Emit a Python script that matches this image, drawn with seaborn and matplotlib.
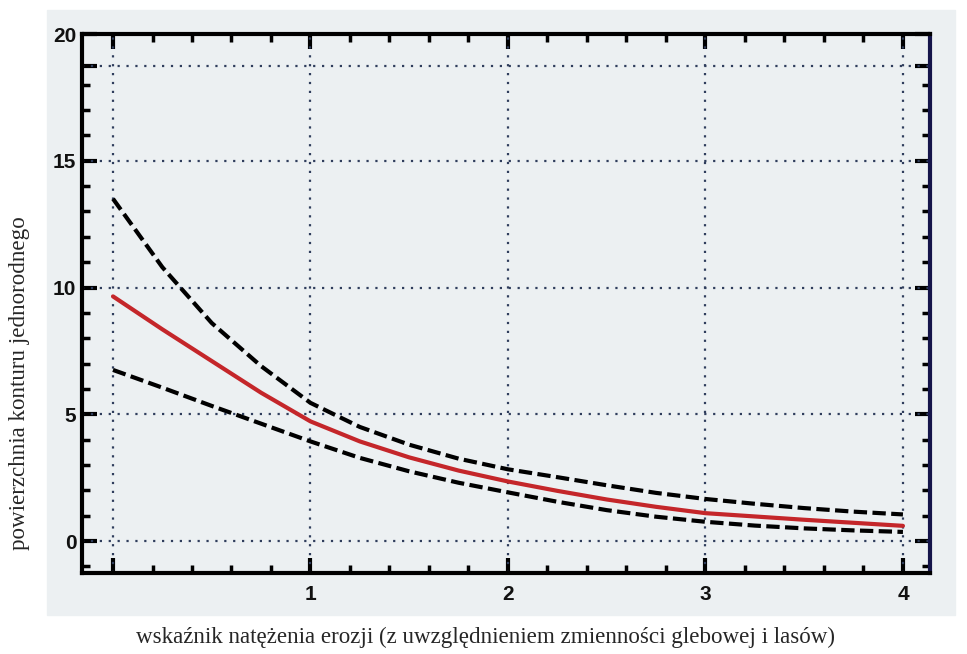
import numpy as np
import pandas as pd
import seaborn as sns
import matplotlib
matplotlib.use("Agg")
import matplotlib.pyplot as plt
from matplotlib.patches import Rectangle
from matplotlib.ticker import MultipleLocator, FixedLocator

# values
x_vals = [0, 0.25, 0.5, 0.75, 1, 1.25, 1.5, 1.75, 2, 2.25, 2.5, 2.75, 3, 3.25, 3.5, 3.75, 4]
mid = [9.65, 8.35, 7.1, 5.85, 4.72, 3.93, 3.3, 2.78, 2.35, 1.98, 1.64, 1.35, 1.1, 0.97, 0.84, 0.72, 0.6]
upper = [13.5, 10.8, 8.6, 6.9, 5.45, 4.5, 3.8, 3.25, 2.83, 2.52, 2.2, 1.9, 1.66, 1.47, 1.3, 1.16, 1.05]
lower = [6.75, 6.05, 5.33, 4.63, 3.93, 3.28, 2.75, 2.3, 1.92, 1.55, 1.22, 0.96, 0.76, 0.61, 0.5, 0.42, 0.36]

xticks = [0, 1, 2, 3, 4]
xticklabels = ["", "1", "2", "3", "4"]
yticks = [0, 5, 10, 15, 18.75, 20]
yticklabels = ["0", "5", "10", "15", "", "20"]

xlabel = "wskaźnik natężenia erozji (z uwzględnieniem zmienności glebowej i lasów)"
ylabel = "powierzchnia konturu jednorodnego"

df = pd.DataFrame({"x": x_vals, "mid": mid, "upper": upper, "lower": lower})

sns.set_style("ticks")
paper = "#ecf0f2"

W, H = 967, 654
fig = plt.figure(figsize=(W / 100, H / 100), dpi=100)
fig.patch.set_facecolor("white")
# scanned page area
fig.patches.append(Rectangle((47 / W, 1 - 615 / H), (955 - 47) / W, (615 - 10) / H,
                             transform=fig.transFigure, color=paper, zorder=-10))

ax = fig.add_axes([82 / W, 1 - 573 / H, (930 - 82) / W, (573 - 34) / H])
ax.set_facecolor(paper)

# dotted grid
grid_kw = dict(color="#2f3d5c", linestyle=(0, (1, 3)), linewidth=1.6, zorder=1)
for gx in xticks:
    ax.axvline(gx, **grid_kw)
for gy in yticks[:-1]:
    ax.axhline(gy, **grid_kw)

sns.lineplot(data=df, x="x", y="upper", ax=ax, color="black", linewidth=3, zorder=3)
ax.lines[-1].set_dashes((3.2, 1.3))
sns.lineplot(data=df, x="x", y="lower", ax=ax, color="black", linewidth=3, zorder=3)
ax.lines[-1].set_dashes((3.2, 1.3))
sns.lineplot(data=df, x="x", y="mid", ax=ax, color="#c4262a", linewidth=3, zorder=4)

ax.set_xlim(-0.157, 4.137)
ax.set_ylim(-1.26, 20)
ax.set_xticks(xticks)
ax.set_xticklabels(xticklabels)
ax.set_yticks(yticks)
ax.set_yticklabels(yticklabels)
ax.xaxis.set_minor_locator(MultipleLocator(0.2))
ax.yaxis.set_minor_locator(FixedLocator([v for v in range(-1, 19) if v % 5 != 0]))

ax.tick_params(which="both", direction="in", top=True, right=True, color="black")
ax.tick_params(which="major", length=11, width=3)
ax.tick_params(which="minor", length=6, width=2.5)
ax.tick_params(axis="x", which="major", pad=9)
ax.tick_params(axis="y", which="major", pad=4)
for lab in ax.get_xticklabels() + ax.get_yticklabels():
    lab.set_fontfamily("Liberation Sans")
    lab.set_fontweight("bold")
    lab.set_fontsize(15)
    lab.set_color("#111111")

for side in ["left", "bottom", "top", "right"]:
    ax.spines[side].set_linewidth(3)
    ax.spines[side].set_color("black")
ax.spines["right"].set_color("#15154a")

ax.set_xlabel(xlabel, fontfamily="Liberation Serif", fontsize=16.6, va="center")
ax.xaxis.set_label_coords((485 - 82) / 848, (573 - 637) / 539)
ax.set_ylabel(ylabel, fontfamily="Liberation Serif", fontsize=16.6, va="center")
ax.yaxis.set_label_coords((20 - 82) / 848, (573 - 383) / 539)

fig.savefig("out.png", dpi=100)
